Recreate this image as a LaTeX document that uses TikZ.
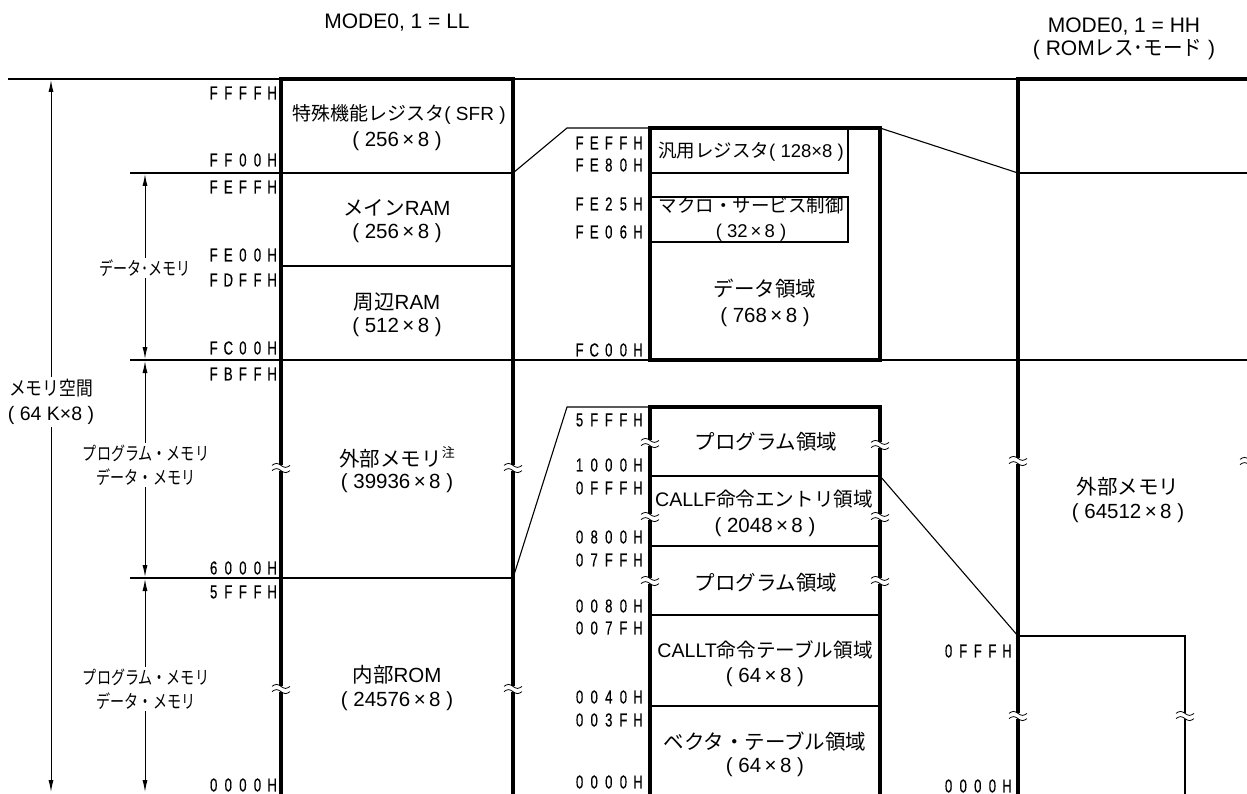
\documentclass[tikz,border=0pt]{standalone}
\usepackage{fontspec}
\usetikzlibrary{arrows.meta}
\setmainfont{Liberation Sans}
\newfontfamily\jp{Noto Sans CJK JP}
\newfontfamily\jpn[FakeStretch=0.76]{Noto Sans CJK JP}
\newfontfamily\jpm[FakeStretch=0.86]{Noto Sans CJK JP}
\newfontfamily\jpw[FakeStretch=0.93]{Noto Sans CJK JP}
\newfontfamily\hexf[FakeStretch=0.7,FakeBold=0.4]{Liberation Sans}
\makeatletter
\newcommand\hx[1]{{\hexf\fontsize{18.8}{20}\selectfont\hx@loop#1\relax}}
\def\hx@loop#1{\ifx#1\relax\else\makebox[14.6pt][c]{#1}\expandafter\hx@loop\fi}
\makeatother
\newcommand\tms{\,×\,}
\begin{document}
\begin{tikzpicture}[x=1pt,y=-1pt,
  wline/.style={line width=3.2pt},
  tline/.style={line width=1.1pt},
  arr/.style={line width=1pt,{Latex[length=12pt,width=5pt]}-{Latex[length=12pt,width=5pt]}},
  lb/.style={inner sep=0pt,font=\fontsize{20.5}{24}\selectfont},
  lbm/.style={inner sep=0pt,font=\fontsize{19}{22}\selectfont},
  lbs/.style={inner sep=0pt,font=\fontsize{18.5}{22}\selectfont},
  lbx/.style={inner sep=0pt,font=\fontsize{19.6}{22}\selectfont},
  hd/.style={inner sep=0pt,font=\fontsize{21}{24}\selectfont},
  hexl/.style={anchor=east,inner sep=0pt},
  arrlbl/.style={fill=white,inner sep=2pt,align=center},
  brk/.pic={
    \fill[white] (-5,-2.6) rectangle (5,2.6);
    \draw[line width=0.8pt] (-9,-2.6) sin (-4.5,-4.6) cos (0,-2.6) sin (4.5,-0.6) cos (9,-2.6);
    \draw[line width=0.8pt] (-9,2.6) sin (-4.5,0.6) cos (0,2.6) sin (4.5,4.6) cos (9,2.6);
  }
]
\useasboundingbox (0,0) rectangle (1247,794);

% headers
\node[hd] (hl) at (397,23) {MODE0, 1 = LL};
\node[hd] (hr1) at (1124,27) {MODE0, 1 = HH};
\node[hd] (hr2) at (1124,50) {( ROM{\jpw レス･モード} )};

% top line
\draw[tline] (8,79) -- (1247,79);

% left column box
\draw[wline] (281,796) -- (281,79) -- (513,79) -- (513,796);
\draw[tline] (130,173) -- (513,173);
\draw[tline] (281,266) -- (513,266);
\draw[tline] (130,360) -- (1250,360);
\draw[tline] (130,578) -- (513,578);

% right column
\draw[wline] (1018,796) -- (1018,79) -- (1250,79);
\draw[tline] (1018,173) -- (1250,173);
\draw[tline] (1018,636) -- (1185,636) -- (1185,796);

% middle upper expansion
\draw[tline] (513,173) -- (567,128) -- (650,128);
\draw[tline] (880,128) -- (1018,173);
\draw[tline] (650,128) rectangle (848,173);
\draw[tline] (650,197) rectangle (848,242);
\draw[wline] (650,128) rectangle (880,360);

% middle lower expansion
\draw[tline] (513,578) -- (567,407) -- (650,407);
\foreach \yy in {476,546,615,706} \draw[tline] (650,\yy) -- (880,\yy);
\draw[tline] (880,476) -- (1018,636);
\draw[wline] (650,796) -- (650,407) -- (880,407) -- (880,796);

% break marks
\foreach \p in {(281,468),(513,468),(281,689),(513,689),
                (650,443),(880,445),(650,517),(880,517),(650,581),(880,581),
                (1018,461),(1018,716),(1185,716),(1249,462)}
  \pic at \p {brk};

% arrows
\coordinate (a1) at (51,80);  \coordinate (a2) at (51,792);
\coordinate (b1) at (145,174); \coordinate (b2) at (145,359);
\coordinate (c1) at (145,361); \coordinate (c2) at (145,577);
\coordinate (d1) at (145,579); \coordinate (d2) at (145,792);
\draw[arr] (a1) -- (a2);
\draw[arr] (b1) -- (b2);
\draw[arr] (c1) -- (c2);
\draw[arr] (d1) -- (d2);

\node[arrlbl,font=\fontsize{19.5}{25}\selectfont] (msp) at (51,402) {{\jpm メモリ空間}\\( 64 K×8 )};
\node[arrlbl,font=\fontsize{18.5}{22}\selectfont] (dm) at (145,268) {\jpn データ･メモリ};
\node[arrlbl,font=\fontsize{18.5}{24}\selectfont] (pm1) at (146,465) {\jpn プログラム・メモリ\\\jpn データ・メモリ};
\node[arrlbl,font=\fontsize{18.5}{24}\selectfont] (pm2) at (146,689) {\jpn プログラム・メモリ\\\jpn データ・メモリ};

% left hex labels
\node[hexl] (l1) at (279.6,93) {\hx{FFFFH}};
\node[hexl] (l2) at (279.6,160) {\hx{FF00H}};
\node[hexl] (l3) at (279.6,187) {\hx{FEFFH}};
\node[hexl] (l4) at (279.6,255) {\hx{FE00H}};
\node[hexl] (l5) at (279.6,280) {\hx{FDFFH}};
\node[hexl] (l6) at (279.6,348) {\hx{FC00H}};
\node[hexl] (l7) at (279.6,374) {\hx{FBFFH}};
\node[hexl] (l8) at (279.6,568) {\hx{6000H}};
\node[hexl] (l9) at (279.6,592) {\hx{5FFFH}};
\node[hexl] (l10) at (279.6,785) {\hx{0000H}};

% middle hex labels
\node[hexl] (m1) at (645.5,143) {\hx{FEFFH}};
\node[hexl] (m2) at (645.5,165) {\hx{FE80H}};
\node[hexl] (m3) at (645.5,204) {\hx{FE25H}};
\node[hexl] (m4) at (645.5,232) {\hx{FE06H}};
\node[hexl] (m5) at (645.5,350) {\hx{FC00H}};
\node[hexl] (m6) at (645.5,420) {\hx{5FFFH}};
\node[hexl] (m7) at (645.5,465) {\hx{1000H}};
\node[hexl] (m8) at (645.5,488) {\hx{0FFFH}};
\node[hexl] (m9) at (645.5,537) {\hx{0800H}};
\node[hexl] (m10) at (645.5,560) {\hx{07FFH}};
\node[hexl] (m11) at (645.5,606) {\hx{0080H}};
\node[hexl] (m12) at (645.5,628) {\hx{007FH}};
\node[hexl] (m13) at (645.5,697) {\hx{0040H}};
\node[hexl] (m14) at (645.5,720) {\hx{003FH}};
\node[hexl] (m15) at (645.5,782) {\hx{0000H}};

% right hex labels
\node[hexl] (r1) at (1014.5,651) {\hx{0FFFH}};
\node[hexl] (r2) at (1014.5,786) {\hx{0000H}};

% left column texts
\node[lbm] (sfr1) at (399,114) {{\jp 特殊機能レジスタ}( SFR )};
\node[lb] (sfr2) at (397,141) {( 256\tms 8 )};
\node[lb] (mr1) at (397,208) {{\jp メイン}RAM};
\node[lb] (mr2) at (397,233) {( 256\tms 8 )};
\node[lb] (pr1) at (397,302) {{\jp 周辺}RAM};
\node[lb] (pr2) at (397,327) {( 512\tms 8 )};
\node[lb] (ex1) at (397,457) {{\jp 外部メモリ}\raisebox{0.45em}{\fontsize{13}{13}\selectfont\jp 注}};
\node[lb] (ex2) at (397,483) {( 39936\tms 8 )};
\node[lb] (ir1) at (397,675) {{\jp 内部}ROM};
\node[lb] (ir2) at (397,701) {( 24576\tms 8 )};

% middle upper texts
\node[lbs] (gr) at (751,152) {{\jp 汎用レジスタ}( 128×8 )};
\node[lbs] (mc1) at (751,205) {\jp マクロ・サービス制御};
\node[lbs] (mc2) at (751,233) {( 32\tms 8 )};
\node[lb] (da1) at (765,289) {\jp データ領域};
\node[lb] (da2) at (765,317) {( 768\tms 8 )};

% middle lower texts
\node[lb] (pa1) at (766,442) {\jp プログラム領域};
\node[lbx] (cf1) at (764,499) {CALLF{\jp 命令エントリ領域}};
\node[lb] (cf2) at (765,527) {( 2048\tms 8 )};
\node[lb] (pa2) at (766,583) {\jp プログラム領域};
\node[lbx] (ct1) at (765,650) {CALLT{\jp 命令テーブル領域}};
\node[lb] (ct2) at (765,677) {( 64\tms 8 )};
\node[lb] (vt1) at (765,742) {\jp ベクタ・テーブル領域};
\node[lb] (vt2) at (765,767) {( 64\tms 8 )};

% right column texts
\node[lb] (re1) at (1128,487) {\jp 外部メモリ};
\node[lb] (re2) at (1128,513) {( 64512\tms 8 )};
\end{tikzpicture}
\end{document}
